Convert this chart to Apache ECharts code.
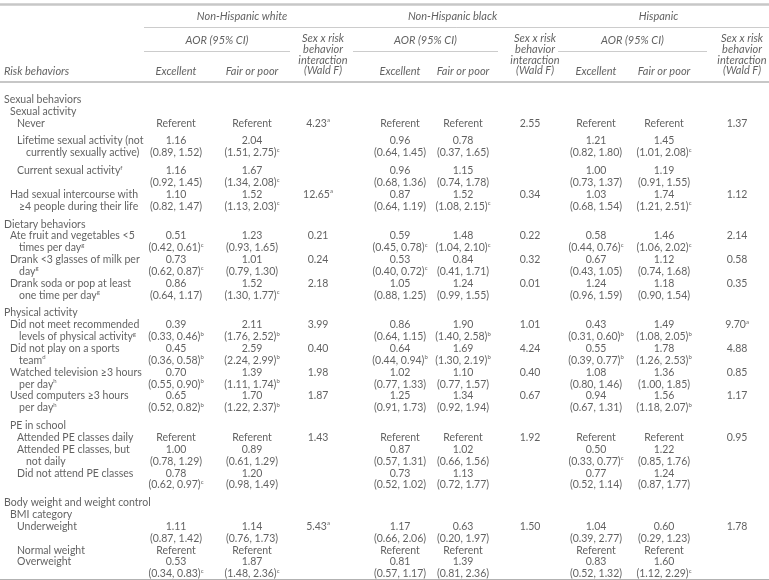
<!DOCTYPE html>
<html><head><meta charset="utf-8">
<script src="https://cdn.jsdelivr.net/npm/echarts@6/dist/echarts.min.js"></script>
<style>html,body{margin:0;padding:0;background:#fff}#c{width:769px;height:580px}</style>
</head><body><div id="c"></div>
<script>
// ---------------- DATA ----------------
const groups = ['Non-Hispanic white', 'Non-Hispanic black', 'Hispanic'];
const subHeaders = ['Excellent', 'Fair or poor'];
const aorHeader = 'AOR (95% CI)';
const waldHeader = ['Sex x risk', 'behavior', 'interaction', '(Wald F)'];
const stubHeader = 'Risk behaviors';

const rowLabels = [
  ['Sexual behaviors'],
  ['Sexual activity'],
  ['Never'],
  ['Lifetime sexual activity (not', 'currently sexually active)'],
  ['Current sexual activity'],
  ['Had sexual intercourse with', '\u22654 people during their life'],
  ['Dietary behaviors'],
  ['Ate fruit and vegetables <5', 'times per day'],
  ['Drank <3 glasses of milk per', 'day'],
  ['Drank soda or pop at least', 'one time per day'],
  ['Physical activity'],
  ['Did not meet recommended', 'levels of physical activity'],
  ['Did not play on a sports', 'team'],
  ['Watched television \u22653 hours', 'per day'],
  ['Used computers \u22653 hours', 'per day'],
  ['PE in school'],
  ['Attended PE classes daily'],
  ['Attended PE classes, but', 'not daily'],
  ['Did not attend PE classes'],
  ['Body weight and weight control'],
  ['BMI category'],
  ['Underweight'],
  ['Normal weight'],
  ['Overweight']
];
const rowNotes = [null,null,null,null,'f',null,null,'g','g','g',null,'g','d','h','h',null,null,null,null,null,null,null,null,null];
const rowLevels = [0,1,2,2,2,1,0,1,1,1,0,1,1,1,1,1,2,2,2,0,1,2,2,2];

const R = 'Referent';
// [AOR, CI low, CI high, note]
const whiteExcellent = [null,null,R,[1.16,0.89,1.52],[1.16,0.92,1.45],[1.10,0.82,1.47],null,[0.51,0.42,0.61,'c'],[0.73,0.62,0.87,'c'],[0.86,0.64,1.17],null,[0.39,0.33,0.46,'b'],[0.45,0.36,0.58,'b'],[0.70,0.55,0.90,'b'],[0.65,0.52,0.82,'b'],null,R,[1.00,0.78,1.29],[0.78,0.62,0.97,'c'],null,null,[1.11,0.87,1.42],R,[0.53,0.34,0.83,'c']];
const whiteFair = [null,null,R,[2.04,1.51,2.75,'c'],[1.67,1.34,2.08,'c'],[1.52,1.13,2.03,'c'],null,[1.23,0.93,1.65],[1.01,0.79,1.30],[1.52,1.30,1.77,'c'],null,[2.11,1.76,2.52,'b'],[2.59,2.24,2.99,'b'],[1.39,1.11,1.74,'b'],[1.70,1.22,2.37,'b'],null,R,[0.89,0.61,1.29],[1.20,0.98,1.49],null,null,[1.14,0.76,1.73],R,[1.87,1.48,2.36,'c']];
const whiteWald = [null,null,[4.23,'a'],null,null,[12.65,'a'],null,[0.21],[0.24],[2.18],null,[3.99],[0.40],[1.98],[1.87],null,[1.43],null,null,null,null,[5.43,'a'],null,null];

const blackExcellent = [null,null,R,[0.96,0.64,1.45],[0.96,0.68,1.36],[0.87,0.64,1.19],null,[0.59,0.45,0.78,'c'],[0.53,0.40,0.72,'c'],[1.05,0.88,1.25],null,[0.86,0.64,1.15],[0.64,0.44,0.94,'b'],[1.02,0.77,1.33],[1.25,0.91,1.73],null,R,[0.87,0.57,1.31],[0.73,0.52,1.02],null,null,[1.17,0.66,2.06],R,[0.81,0.57,1.17]];
const blackFair = [null,null,R,[0.78,0.37,1.65],[1.15,0.74,1.78],[1.52,1.08,2.15,'c'],null,[1.48,1.04,2.10,'c'],[0.84,0.41,1.71],[1.24,0.99,1.55],null,[1.90,1.40,2.58,'b'],[1.69,1.30,2.19,'b'],[1.10,0.77,1.57],[1.34,0.92,1.94],null,R,[1.02,0.66,1.56],[1.13,0.72,1.77],null,null,[0.63,0.20,1.97],R,[1.39,0.81,2.36]];
const blackWald = [null,null,[2.55],null,null,[0.34],null,[0.22],[0.32],[0.01],null,[1.01],[4.24],[0.40],[0.67],null,[1.92],null,null,null,null,[1.50],null,null];

const hispExcellent = [null,null,R,[1.21,0.82,1.80],[1.00,0.73,1.37],[1.03,0.68,1.54],null,[0.58,0.44,0.76,'c'],[0.67,0.43,1.05],[1.24,0.96,1.59],null,[0.43,0.31,0.60,'b'],[0.55,0.39,0.77,'b'],[1.08,0.80,1.46],[0.94,0.67,1.31],null,R,[0.50,0.33,0.77,'c'],[0.77,0.52,1.14],null,null,[1.04,0.39,2.77],R,[0.83,0.52,1.32]];
const hispFair = [null,null,R,[1.45,1.01,2.08,'c'],[1.19,0.91,1.55],[1.74,1.21,2.51,'c'],null,[1.46,1.06,2.02,'c'],[1.12,0.74,1.68],[1.18,0.90,1.54],null,[1.49,1.08,2.05,'b'],[1.78,1.26,2.53,'b'],[1.36,1.00,1.85],[1.56,1.18,2.07,'b'],null,R,[1.22,0.85,1.76],[1.24,0.87,1.77],null,null,[0.60,0.29,1.23],R,[1.60,1.12,2.29,'c']];
const hispWald = [null,null,[1.37],null,null,[1.12],null,[2.14],[0.58],[0.35],null,[9.70,'a'],[4.88],[0.85],[1.17],null,[0.95],null,null,null,null,[1.78],null,null];

// ---------------- LAYOUT ----------------
const W = 769, H = 580;
const FONT = 'Lato';
const INK = '#3a3a3a';
const BODY_SIZE = 10.5, HEAD_SIZE = 11;
const colX = [[176, 252, 318], [400, 463, 530], [596, 664, 737]];
const aorSpan = [[144, 290], [353, 498], [558, 707]];
const groupSpan = [144, 769];
const levelX = [4, 10, 17];
const contIndent = 9;
const firstLineY = 99.5, pitch = 11.85;
const gapBefore = {3: 6, 4: 6, 6: 6, 10: 6, 15: 6, 19: 6};
const Y = {top: 4, group: 16, groupLine: 27, aor: 40, aorLine: 51, wald0: 38.5, waldStep: 10.8, colHead: 71, headRule: 82, bottomGap: 5.5};

const cols = [[whiteExcellent, whiteFair, whiteWald], [blackExcellent, blackFair, blackWald], [hispExcellent, hispFair, hispWald]];

function sup(t, n) { return n ? t + '{s|' + n + '}' : t; }
function lineCount(i) {
  let n = rowLabels[i].length;
  cols.forEach(g => g.forEach(c => { if (Array.isArray(c[i]) && c[i].length >= 3) n = Math.max(n, 2); }));
  return n;
}

const leftBody = [], centerBody = [], leftHead = [], centerHead = [];
let y = firstLineY;
rowLabels.forEach((lines, i) => {
  y += gapBefore[i] || 0;
  const ry = y;
  lines.forEach((t, k) => {
    const isLast = k === lines.length - 1;
    leftBody.push({value: [levelX[rowLevels[i]] + (k ? contIndent : 0), ry + k * pitch], t: sup(t, isLast ? rowNotes[i] : null)});
  });
  cols.forEach((g, gi) => {
    g.forEach((c, ci) => {
      const v = c[i];
      if (v == null) return;
      const x = colX[gi][ci];
      if (v === R) { centerBody.push({value: [x, ry], t: R}); return; }
      if (ci === 2) { centerBody.push({value: [x, ry], t: sup(v[0].toFixed(2), v[1])}); return; }
      centerBody.push({value: [x, ry], t: v[0].toFixed(2)});
      centerBody.push({value: [x, ry + pitch], t: sup('(' + v[1].toFixed(2) + ', ' + v[2].toFixed(2) + ')', v[3])});
    });
  });
  y += lineCount(i) * pitch;
});
const lastLineY = y - pitch;

// headers
leftHead.push({value: [levelX[0], Y.colHead], t: stubHeader});
groups.forEach((gname, gi) => {
  centerHead.push({value: [(aorSpan[gi][0] + colX[gi][2] + 22) / 2, Y.group], t: gname});
  centerHead.push({value: [(aorSpan[gi][0] + aorSpan[gi][1]) / 2, Y.aor], t: aorHeader});
  subHeaders.forEach((s, si) => centerHead.push({value: [colX[gi][si], Y.colHead], t: s}));
  waldHeader.forEach((s, k) => centerHead.push({value: [colX[gi][2] + 5, Y.wald0 + k * Y.waldStep], t: s}));
});

const rules = [
  {coords: [[0, Y.top], [W, Y.top]], lineStyle: {color: '#8f8f8f', width: 2.5}},
  {coords: [[groupSpan[0], Y.groupLine], [groupSpan[1], Y.groupLine]], lineStyle: {color: '#9a9a9a', width: 1}},
  {coords: [[0, Y.headRule], [W, Y.headRule]], lineStyle: {color: '#8f8f8f', width: 2}},
  {coords: [[0, lastLineY + Y.bottomGap], [W, lastLineY + Y.bottomGap]], lineStyle: {color: '#333', width: 1.6}}
];
aorSpan.forEach(s => rules.push({coords: [[s[0], Y.aorLine], [s[1], Y.aorLine]], lineStyle: {color: '#9a9a9a', width: 1}}));

function textSeries(data, align, italic) {
  const fs = italic ? HEAD_SIZE : BODY_SIZE;
  return {
    type: 'scatter', data: data, symbolSize: 0, silent: true, animation: false,
    label: {
      show: true, position: 'inside', align: align, verticalAlign: 'middle',
      color: INK, fontFamily: FONT, fontSize: fs, fontStyle: italic ? 'italic' : 'normal', lineHeight: 12,
      formatter: p => p.data.t,
      rich: {s: {fontSize: 6, lineHeight: 8, verticalAlign: 'top', color: INK, fontFamily: FONT}}
    }
  };
}

const chart = echarts.init(document.getElementById('c'), null, {renderer: 'canvas'});
chart.setOption({
  backgroundColor: '#ffffff',
  animation: false,
  grid: {left: 0, right: 0, top: 0, bottom: 0},
  xAxis: {type: 'value', min: 0, max: W, show: false},
  yAxis: {type: 'value', min: 0, max: H, inverse: true, show: false},
  series: [
    {type: 'lines', coordinateSystem: 'cartesian2d', polyline: false, silent: true, animation: false, data: rules},
    textSeries(leftBody, 'left', false),
    textSeries(centerBody, 'center', false),
    textSeries(leftHead, 'left', true),
    textSeries(centerHead, 'center', true)
  ]
});
</script>
</body></html>
